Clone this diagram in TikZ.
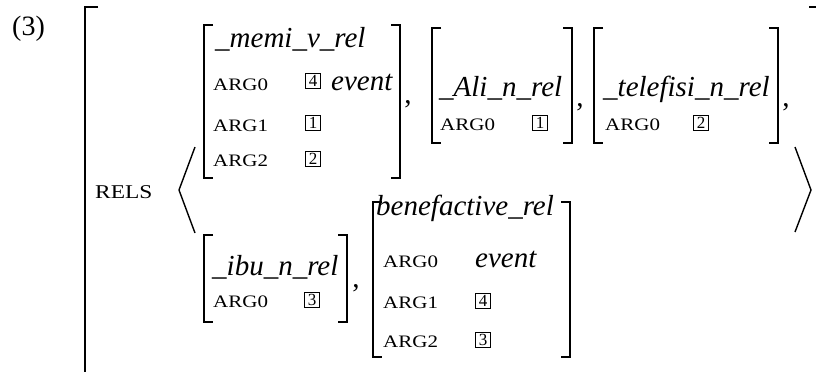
\documentclass[tikz,border=0pt]{standalone}
\usepackage{fontspec}
\setmainfont{Liberation Serif}
\newfontfamily\scfont[FakeStretch=1.2]{Liberation Serif}
\newcommand\avmbrk[4]{%
  \draw[brk] ({#1+9},#2) -- (#1,#2) -- (#1,#4) -- ({#1+9},#4);
  \draw[brk] ({#3-9},#2) -- (#3,#2) -- (#3,#4) -- ({#3-9},#4);}
\begin{document}
\begin{tikzpicture}[x=1pt,y=-1pt,
  brk/.style={line width=1.8pt},
  ang/.style={line width=1.4pt, line join=miter},
  ttl/.style={anchor=base west, inner sep=0pt, font=\fontsize{29}{32}\selectfont\itshape},
  feat/.style={anchor=base west, inner sep=0pt, font=\fontsize{17.5}{20}\scfont},
  tagbox/.style={anchor=south, draw, line width=0.9pt, inner sep=0pt, minimum width=15pt, minimum height=15pt, font=\fontsize{17}{18}\selectfont},
  val/.style={anchor=base west, inner sep=0pt, font=\fontsize{29}{32}\selectfont\itshape},
  punct/.style={anchor=base, inner sep=0pt, font=\fontsize{29}{32}\selectfont}]
\useasboundingbox (0,0) rectangle (816,372);
% example number
\node[punct, anchor=base west, font=\fontsize{28}{32}\selectfont] (num) at (12,35) {(3)};
% outer bracket
\draw[brk] (98,7) -- (85,7) -- (85,372);
\draw[brk] (809,7) -- (816,7);
% RELS
\node[feat, font=\fontsize{19.5}{22}\scfont] (rels) at (95,198) {RELS};
% angle brackets
\draw[ang] (195,147) -- (179,190) -- (195,233);
\draw[ang] (795,147) -- (811,190) -- (795,232);
% memi
\avmbrk{204}{25}{400}{178}
\node[ttl] (memi) at (215,47) {\_memi\_v\_rel};
\node[feat] (m0) at (213,90) {ARG0};
\node[tagbox] (m0t) at (313,89) {4};
\node[val] (m0v) at (331,90) {event};
\node[feat] (m1) at (213,131) {ARG1};
\node[tagbox] (m1t) at (313,131) {1};
\node[feat] (m2) at (213,166) {ARG2};
\node[tagbox] (m2t) at (313,167) {2};
\node[punct] (c1) at (408,103) {,};
% Ali
\avmbrk{432}{28}{572}{143}
\node[ttl] (ali) at (439,96) {\_Ali\_n\_rel};
\node[feat] (a0) at (440,130) {ARG0};
\node[tagbox] (a0t) at (540,131) {1};
\node[punct] (c2) at (580,106) {,};
% telefisi
\avmbrk{594}{28}{778}{143}
\node[ttl] (tel) at (603,96) {\_telefisi\_n\_rel};
\node[feat] (t0) at (605,130) {ARG0};
\node[tagbox] (t0t) at (701,131) {2};
\node[punct] (c3) at (786,106) {,};
% ibu
\avmbrk{204}{235}{347}{322}
\node[ttl] (ibu) at (212,275) {\_ibu\_n\_rel};
\node[feat] (i0) at (213,307) {ARG0};
\node[tagbox] (i0t) at (312,308) {3};
\node[punct] (c4) at (356,287) {,};
% benefactive
\avmbrk{373}{202}{570}{357}
\node[ttl] (ben) at (376,215) {benefactive\_rel};
\node[feat] (b0) at (383,267) {ARG0};
\node[val] (b0v) at (475,267) {event};
\node[feat] (b1) at (383,308) {ARG1};
\node[tagbox] (b1t) at (483,309) {4};
\node[feat] (b2) at (383,347) {ARG2};
\node[tagbox] (b2t) at (483,348) {3};
\end{tikzpicture}
\end{document}
